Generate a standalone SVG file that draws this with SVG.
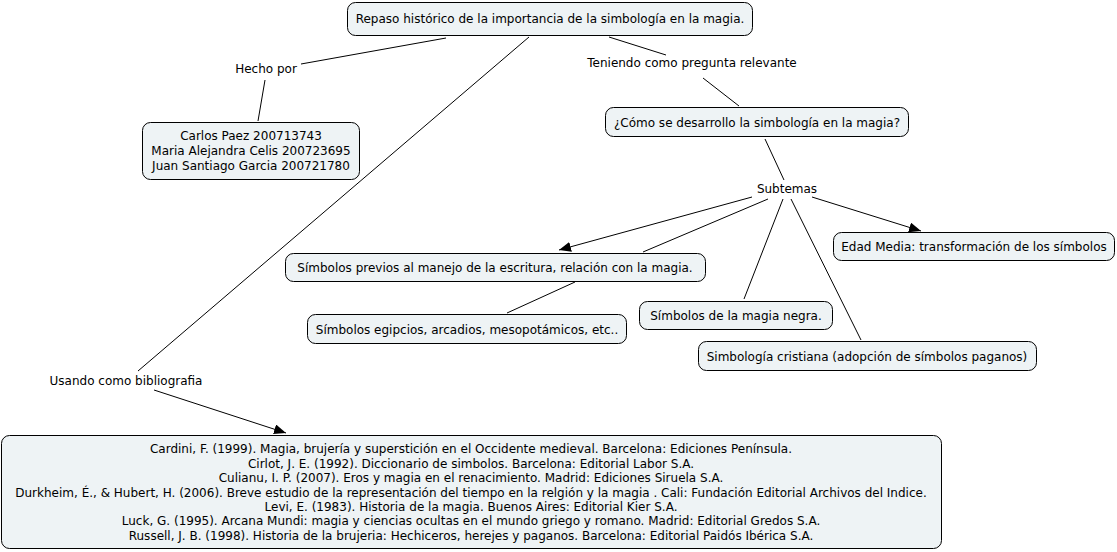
<svg xmlns="http://www.w3.org/2000/svg" width="1117" height="552" viewBox="0 0 1117 552">
<style>
.bg{fill:#ffffff}
.node rect{fill:#eef3f5;stroke:#000;stroke-width:1}
text{font-family:"DejaVu Sans","Liberation Sans",sans-serif;font-size:12px;fill:#000}
.c{text-anchor:middle}
.conn line{stroke:#000;stroke-width:1;fill:none}
</style>
<defs>
<marker id="arr" markerUnits="userSpaceOnUse" markerWidth="13" markerHeight="11" refX="12" refY="5" orient="auto">
<path d="M0,0 L12,5 L0,10 z" fill="#000"/>
</marker>
</defs>
<rect class="bg" x="0" y="0" width="1117" height="552"/>
<g id="connectors" class="conn">
<line x1="446" y1="38" x2="301" y2="64"/>
<line x1="265" y1="80" x2="258" y2="121"/>
<line x1="529" y1="37" x2="138" y2="371"/>
<line x1="154" y1="390" x2="286" y2="433" marker-end="url(#arr)"/>
<line x1="609" y1="37" x2="666" y2="55"/>
<line x1="703" y1="78" x2="739" y2="106"/>
<line x1="765" y1="139" x2="784" y2="180"/>
<line x1="752" y1="197" x2="559" y2="250" marker-end="url(#arr)"/>
<line x1="768" y1="199" x2="643" y2="252"/>
<line x1="783" y1="199" x2="744" y2="299"/>
<line x1="791" y1="199" x2="861" y2="340"/>
<line x1="812" y1="197" x2="921" y2="231" marker-end="url(#arr)"/>
<line x1="575" y1="282" x2="507" y2="313"/>
</g>
<g id="root" class="node">
<rect x="347.5" y="2.5" width="405" height="33" rx="8"/>
<text class="c" x="550" y="22.5">Repaso histórico de la importancia de la simbología en la magia.</text>
</g>
<g id="lbl-hecho">
<text class="c" x="266" y="72.5">Hecho por</text>
</g>
<g id="authors" class="node">
<rect x="142.5" y="122.5" width="217" height="57" rx="8"/>
<text class="c" x="251" y="140">Carlos Paez 200713743</text>
<text class="c" x="251" y="155">Maria Alejandra Celis 200723695</text>
<text class="c" x="251" y="170">Juan Santiago Garcia 200721780</text>
</g>
<g id="lbl-teniendo">
<text class="c" x="692" y="66.5">Teniendo como pregunta relevante</text>
</g>
<g id="question" class="node">
<rect x="605.5" y="107.5" width="303" height="29" rx="8"/>
<text class="c" x="757" y="126.5">¿Cómo se desarrollo la simbología en la magia?</text>
</g>
<g id="lbl-subtemas">
<text class="c" x="787" y="192.5">Subtemas</text>
</g>
<g id="edad" class="node">
<rect x="833.5" y="232.5" width="281" height="28" rx="8"/>
<text class="c" x="974" y="250.5">Edad Media: transformación de los símbolos</text>
</g>
<g id="previos" class="node">
<rect x="285.5" y="253.5" width="420" height="28" rx="8"/>
<text class="c" x="495" y="271.5">Símbolos previos al manejo de la escritura, relación con la magia.</text>
</g>
<g id="egipcios" class="node">
<rect x="307.5" y="314.5" width="319" height="29" rx="8"/>
<text class="c" x="467" y="333.5">Símbolos egipcios, arcadios, mesopotámicos, etc..</text>
</g>
<g id="negra" class="node">
<rect x="639.5" y="301.5" width="193" height="28" rx="8"/>
<text class="c" x="736" y="319.5">Símbolos de la magia negra.</text>
</g>
<g id="cristiana" class="node">
<rect x="698.5" y="341.5" width="338" height="29" rx="8"/>
<text class="c" x="867" y="360.5">Simbología cristiana (adopción de símbolos paganos)</text>
</g>
<g id="lbl-usando">
<text class="c" x="126" y="384.5">Usando como bibliografia</text>
</g>
<g id="biblio" class="node">
<rect x="1.5" y="435.5" width="940" height="113" rx="8"/>
<text class="c" x="471" y="453">Cardini, F. (1999). Magia, brujería y superstición en el Occidente medieval. Barcelona: Ediciones Península.</text>
<text class="c" x="471" y="467.5">Cirlot, J. E. (1992). Diccionario de simbolos. Barcelona: Editorial Labor S.A.</text>
<text class="c" x="471" y="482">Culianu, I. P. (2007). Eros y magia en el renacimiento. Madrid: Ediciones Siruela S.A.</text>
<text class="c" x="471" y="496.5">Durkheim, É., &amp; Hubert, H. (2006). Breve estudio de la representación del tiempo en la relgión y la magia . Cali: Fundación Editorial Archivos del Indice.</text>
<text class="c" x="471" y="510.5">Levi, E. (1983). Historia de la magia. Buenos Aires: Editorial Kier S.A.</text>
<text class="c" x="471" y="525">Luck, G. (1995). Arcana Mundi: magia y ciencias ocultas en el mundo griego y romano. Madrid: Editorial Gredos S.A.</text>
<text class="c" x="471" y="539.5">Russell, J. B. (1998). Historia de la brujeria: Hechiceros, herejes y paganos. Barcelona: Editorial Paidós Ibérica S.A.</text>
</g>
</svg>
